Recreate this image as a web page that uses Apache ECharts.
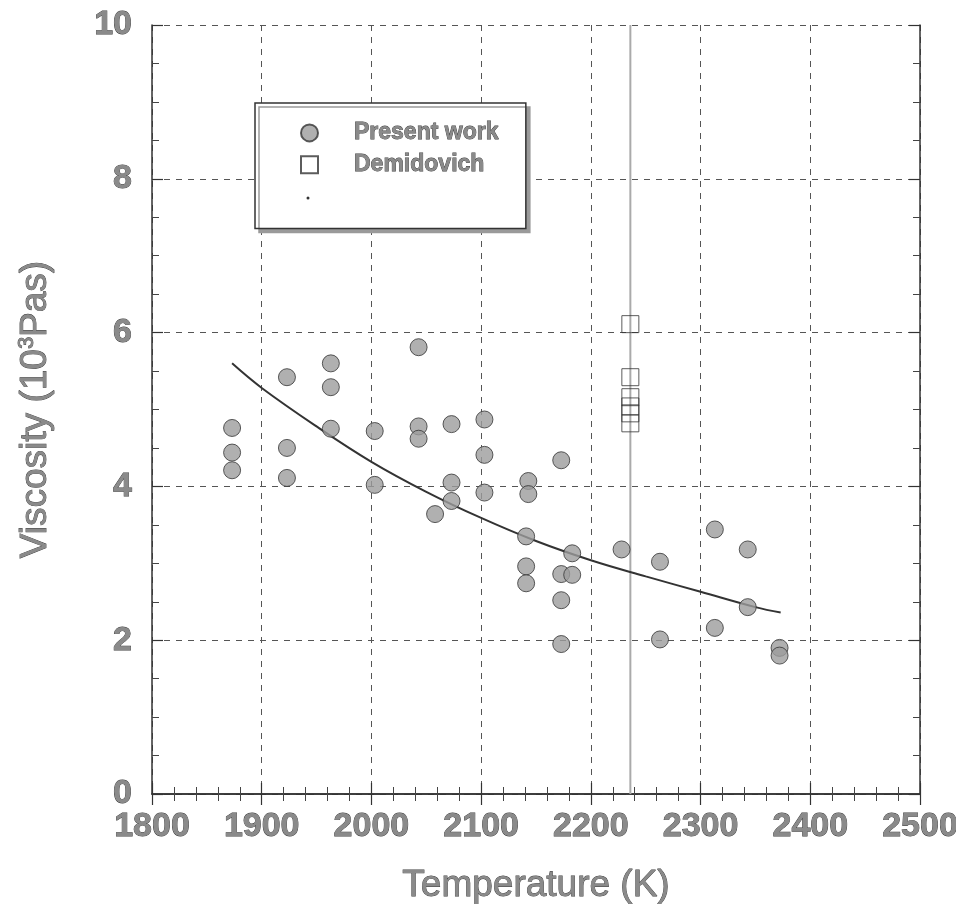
<!DOCTYPE html>
<html>
<head>
<meta charset="utf-8">
<script src="https://cdn.jsdelivr.net/npm/echarts@6/dist/echarts.min.js"></script>
<style>html,body{margin:0;padding:0;background:#fff}#c{width:956px;height:904px}</style>
</head>
<body>
<div id="c"></div>
<script>
// Present work (temperature K, viscosity 10^-3 Pa s)
const presentWork = [
  [1873,4.76],[1873,4.44],[1873,4.21],
  [1923,5.42],[1923,4.50],[1923,4.11],
  [1963,5.60],[1963,5.29],[1963,4.75],
  [2003,4.72],[2003,4.02],
  [2043,5.81],[2043,4.78],[2043,4.62],
  [2058,3.64],
  [2073,4.81],[2073,4.05],[2073,3.81],
  [2103,4.87],[2103,4.41],[2103,3.92],
  [2143,4.07],[2143,3.90],
  [2141,3.35],[2141,2.96],[2141,2.74],
  [2173,4.34],[2173,2.86],[2173,2.52],[2173,1.95],
  [2183,3.13],[2183,2.85],
  [2228,3.18],
  [2263,3.02],[2263,2.01],
  [2313,3.44],[2313,2.16],
  [2343,3.18],[2343,2.43],
  [2372,1.90],[2372,1.80]
];
// Demidovich
const demidovich = [[2236,6.11],[2236,5.42],[2236,5.16],[2236,5.04],[2236,4.95],[2236,4.82]];
// fitted curve
const fitCurve = [[1873,5.60],[1900,5.28],[1950,4.78],[2000,4.32],[2050,3.93],[2100,3.59],[2150,3.29],[2200,3.04],[2250,2.83],[2300,2.63],[2350,2.43],[2373,2.36]];
// vertical reference line
const refLine = [[2236,0],[2236,10]];
const xTicks = [1800,1900,2000,2100,2200,2300,2400,2500];
const yTicks = [0,2,4,6,8,10];

const labelFont = "'Liberation Sans Narrow','Arial Narrow','Liberation Sans',Arial,sans-serif";
const titleFont = "'Liberation Sans',Arial,sans-serif";
const greyText = {color:'#8a8a8a', textBorderColor:'#3a3a3a', textBorderWidth:0.8};

const chart = echarts.init(document.getElementById('c'), null, {renderer:'canvas'});
const baseX = {
  type:'value', min:xTicks[0], max:xTicks[xTicks.length-1], interval:100,
  axisLine:{show:true, lineStyle:{color:'#333', width:1.5}},
  axisTick:{show:true, inside:true, length:11, lineStyle:{color:'#333', width:1.2}},
  minorTick:{show:true, splitNumber:5, length:7, lineStyle:{color:'#444', width:1}},
};
const baseY = {
  type:'value', min:yTicks[0], max:yTicks[yTicks.length-1], interval:2,
  axisLine:{show:true, lineStyle:{color:'#333', width:1.5}},
  axisTick:{show:true, inside:true, length:11, lineStyle:{color:'#333', width:1.2}},
  minorTick:{show:true, splitNumber:4, length:7, lineStyle:{color:'#444', width:1}},
};
chart.setOption({
  animation:false,
  grid:{left:152, right:36, top:25, bottom:110, containLabel:false, outerBoundsMode:'none'},
  xAxis:[
    Object.assign({}, baseX, {
      position:'bottom',
      axisLabel:Object.assign({margin:16, fontSize:34, fontWeight:'bold', fontFamily:labelFont,
        formatter:function(v){return String(v);}}, greyText),
      splitLine:{show:true, lineStyle:{type:[6,6], color:'#555', width:1}},
      name:'Temperature (K)', nameLocation:'middle', nameGap:73,
      nameTextStyle:Object.assign({fontSize:37, fontFamily:titleFont}, greyText)
    }),
    Object.assign({}, baseX, {position:'top', axisLabel:{show:false}, splitLine:{show:false}})
  ],
  yAxis:[
    Object.assign({}, baseY, {
      position:'left',
      axisLabel:Object.assign({margin:20, fontSize:34, fontWeight:'bold', fontFamily:labelFont,
        formatter:function(v){return String(v);}}, greyText),
      splitLine:{show:true, lineStyle:{type:[6,6], color:'#555', width:1}},
      name:'Viscosity (10{sup|3}Pas)', nameLocation:'middle', nameGap:96, nameRotate:90,
      nameTextStyle:Object.assign({fontSize:37, fontFamily:titleFont,
        rich:{sup:Object.assign({fontSize:22, verticalAlign:'top', padding:[0,0,18,0], fontFamily:titleFont}, greyText)}}, greyText)
    }),
    Object.assign({}, baseY, {position:'right', axisLabel:{show:false}, splitLine:{show:false}})
  ],
  legend:{
    orient:'vertical', left:255, top:103,
    data:['Present work','Demidovich'],
    itemWidth:17, itemHeight:17, itemGap:8,
    padding:[18,27,52,45],
    backgroundColor:'#fff', borderColor:'#333', borderWidth:1.5,
    shadowColor:'#9a9a9a', shadowOffsetX:4, shadowOffsetY:4, shadowBlur:0,
    textStyle:Object.assign({fontSize:23, fontWeight:'bold', fontFamily:titleFont, padding:[0,0,0,31]}, greyText)
  },
  graphic:[{type:'circle', shape:{cx:308, cy:198, r:1.5}, style:{fill:'#333'}, z:100}],
  series:[
    {name:'ref', type:'line', data:refLine, symbol:'none', silent:true,
     lineStyle:{color:'#aaa', width:2}, z:1},
    {name:'fit', type:'line', data:fitCurve, symbol:'none', smooth:0.4,
     lineStyle:{color:'#333', width:2}, z:3},
    {name:'Present work', type:'scatter', data:presentWork, symbol:'circle', symbolSize:17,
     itemStyle:{color:'#9c9c9c', borderColor:'#333', borderWidth:1}, z:4},
    {name:'Demidovich', type:'scatter', data:demidovich, symbol:'rect', symbolSize:17,
     itemStyle:{color:'rgba(255,255,255,0)', borderColor:'#333', borderWidth:1}, z:4}
  ]
});
</script>
</body>
</html>
